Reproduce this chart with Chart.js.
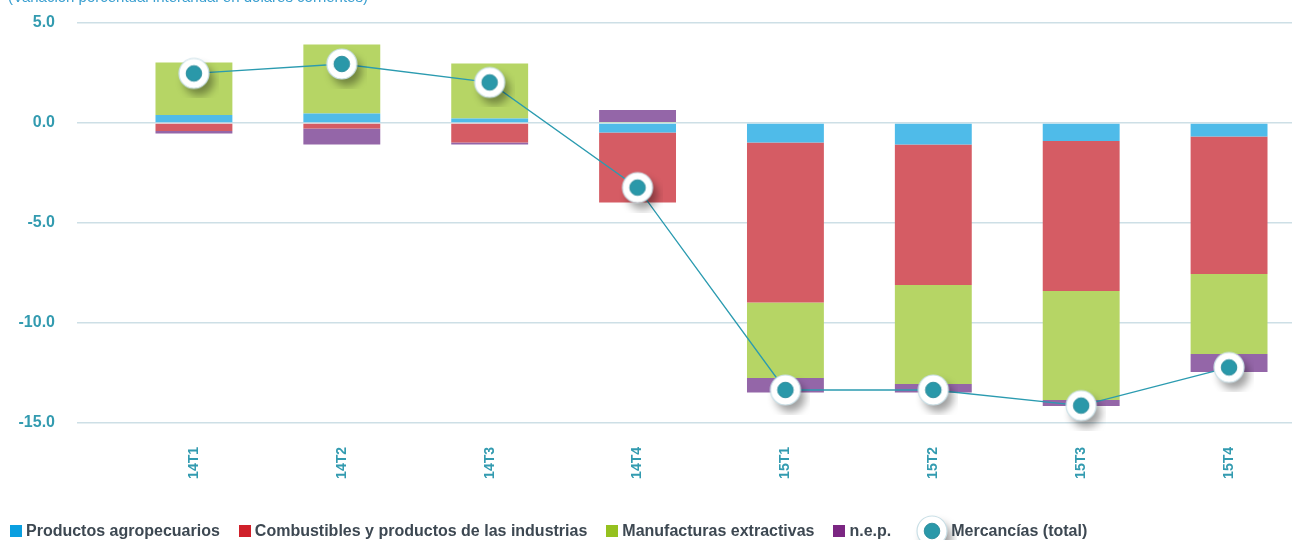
<!DOCTYPE html>
<html>
<head>
<meta charset="utf-8">
<script src="https://cdn.jsdelivr.net/npm/chart.js@4.4.1/dist/chart.umd.min.js"></script>
<style>
  html, body { margin: 0; padding: 0; background: #ffffff; overflow: hidden; width: 1292px; height: 540px; }
  #wrap { position: absolute; left: -10px; top: 0; width: 1313px; height: 549px; }
  #title { position: absolute; left: 8px; top: -12px; font: 15px "Liberation Sans", Arial, sans-serif; color: #3a9fd0; white-space: nowrap; line-height: 17px; }
  #legend { position: absolute; left: 10px; top: 522px; display: flex; align-items: center; font: bold 16px "Liberation Sans", Arial, sans-serif; color: #3d4852; line-height: 18px; white-space: nowrap; }
  .item { display: flex; align-items: center; margin-right: 19px; }
  .sq { width: 12px; height: 12px; margin-right: 4px; display: inline-block; }
</style>
</head>
<body>
<div id="wrap"><canvas id="c" width="1313" height="549" style="width:1313px;height:549px"></canvas></div>
<div id="title">(Variación porcentual interanual en dólares corrientes)</div>
<div id="legend"></div>
<script>
const categories = ['14T1', '14T2', '14T3', '14T4', '15T1', '15T2', '15T3', '15T4'];
const agropecuarios = [0.40, 0.47, 0.23, -0.47, -0.98, -1.08, -0.90, -0.68];
const combustibles = [-0.40, -0.27, -0.97, -3.51, -7.99, -7.02, -7.50, -6.87];
const manufacturas = [2.63, 3.46, 2.75, 0.05, -3.78, -4.95, -5.45, -4.00];
const nep = [-0.13, -0.81, -0.11, 0.60, -0.73, -0.43, -0.30, -0.90];
const mercanciasTotal = [2.48, 2.95, 2.03, -3.23, -13.35, -13.35, -14.13, -12.22];
const yTicks = [5, 0, -5, -10, -15];

const seriesNames = ['Productos agropecuarios', 'Combustibles y productos de las industrias', 'Manufacturas extractivas', 'n.e.p.', 'Mercancías (total)'];
const barColors = ['#4fbbe9', '#d55c64', '#b6d565', '#9466a8'];
const legendColors = ['#0a9fe0', '#d0202a', '#95c11f', '#7b2682'];
const teal = '#339bb0';

function makeMarker() {
  const size = 50;
  const c = document.createElement('canvas');
  c.width = size; c.height = size;
  const ctx = c.getContext('2d');
  const m = size / 2;
  ctx.save();
  ctx.shadowColor = 'rgba(0,0,0,0.38)';
  ctx.shadowBlur = 9;
  ctx.shadowOffsetX = 5;
  ctx.shadowOffsetY = 7;
  ctx.beginPath(); ctx.arc(m, m, 15, 0, Math.PI * 2);
  ctx.fillStyle = '#ffffff'; ctx.fill();
  ctx.restore();
  ctx.beginPath(); ctx.arc(m, m, 15, 0, Math.PI * 2);
  ctx.strokeStyle = '#c9dfe6'; ctx.lineWidth = 1.2; ctx.stroke();
  ctx.beginPath(); ctx.arc(m, m, 7.8, 0, Math.PI * 2);
  ctx.fillStyle = '#2a98a9'; ctx.fill();
  ctx.strokeStyle = '#1f8596'; ctx.lineWidth = 0.8; ctx.stroke();
  return c;
}
const marker = makeMarker();

const barSeries = [agropecuarios, combustibles, manufacturas, nep];
const datasets = barSeries.map((vals, i) => ({
  type: 'bar',
  label: seriesNames[i],
  data: vals,
  backgroundColor: barColors[i],
  borderWidth: 0,
  stack: 'bars',
  order: 1,
  barPercentage: 0.52,
  categoryPercentage: 1.0
}));
datasets.push({
  type: 'line',
  label: seriesNames[4],
  data: mercanciasTotal,
  borderColor: '#2b9bb0',
  borderWidth: 1.3,
  pointStyle: marker,
  pointRadius: 15,
  pointHoverRadius: 15,
  tension: 0,
  fill: false,
  stack: 'total',
  order: 0,
  clip: false
});

new Chart(document.getElementById('c'), {
  type: 'bar',
  data: { labels: categories, datasets },
  options: {
    responsive: false,
    animation: false,
    layout: { autoPadding: false, padding: { top: 23, left: 0, right: 0, bottom: 48 } },
    plugins: {
      legend: { display: false },
      tooltip: { enabled: false },
      title: { display: false }
    },
    scales: {
      x: {
        stacked: true,
        grid: { display: false, drawTicks: false },
        border: { display: false },
        ticks: {
          autoSkip: false, minRotation: 90, maxRotation: 90, padding: 24,
          color: teal, font: { family: '"Liberation Sans", Arial, sans-serif', size: 14, weight: 'bold' }
        },
        afterFit: (s) => { s.height = 78; }
      },
      y: {
        stacked: true,
        min: -15, max: 5,
        afterBuildTicks: (s) => { s.ticks = yTicks.map(v => ({ value: v })); },
        grid: { color: '#cddfe6', lineWidth: 1.5, tickLength: 43, drawTicks: true },
        border: { display: false },
        ticks: {
          padding: 22, color: teal,
          font: { family: '"Liberation Sans", Arial, sans-serif', size: 16, weight: 'bold' },
          callback: (v) => Number(v).toFixed(1)
        },
        afterFit: (s) => { s.width = 130; s.paddingTop = 0; s.paddingBottom = 0; }
      }
    }
  }
});

// HTML legend
const legend = document.getElementById('legend');
seriesNames.forEach((name, i) => {
  const item = document.createElement('span');
  item.className = 'item';
  if (i < 4) {
    const sq = document.createElement('span');
    sq.className = 'sq';
    sq.style.background = legendColors[i];
    item.appendChild(sq);
  } else {
    const cv = makeMarker();
    cv.style.width = '50px'; cv.style.height = '50px';
    cv.style.margin = '-16px -6px -16px -3px';
    item.appendChild(cv);
  }
  const t = document.createElement('span');
  t.textContent = name;
  item.appendChild(t);
  legend.appendChild(item);
});
</script>
</body>
</html>
